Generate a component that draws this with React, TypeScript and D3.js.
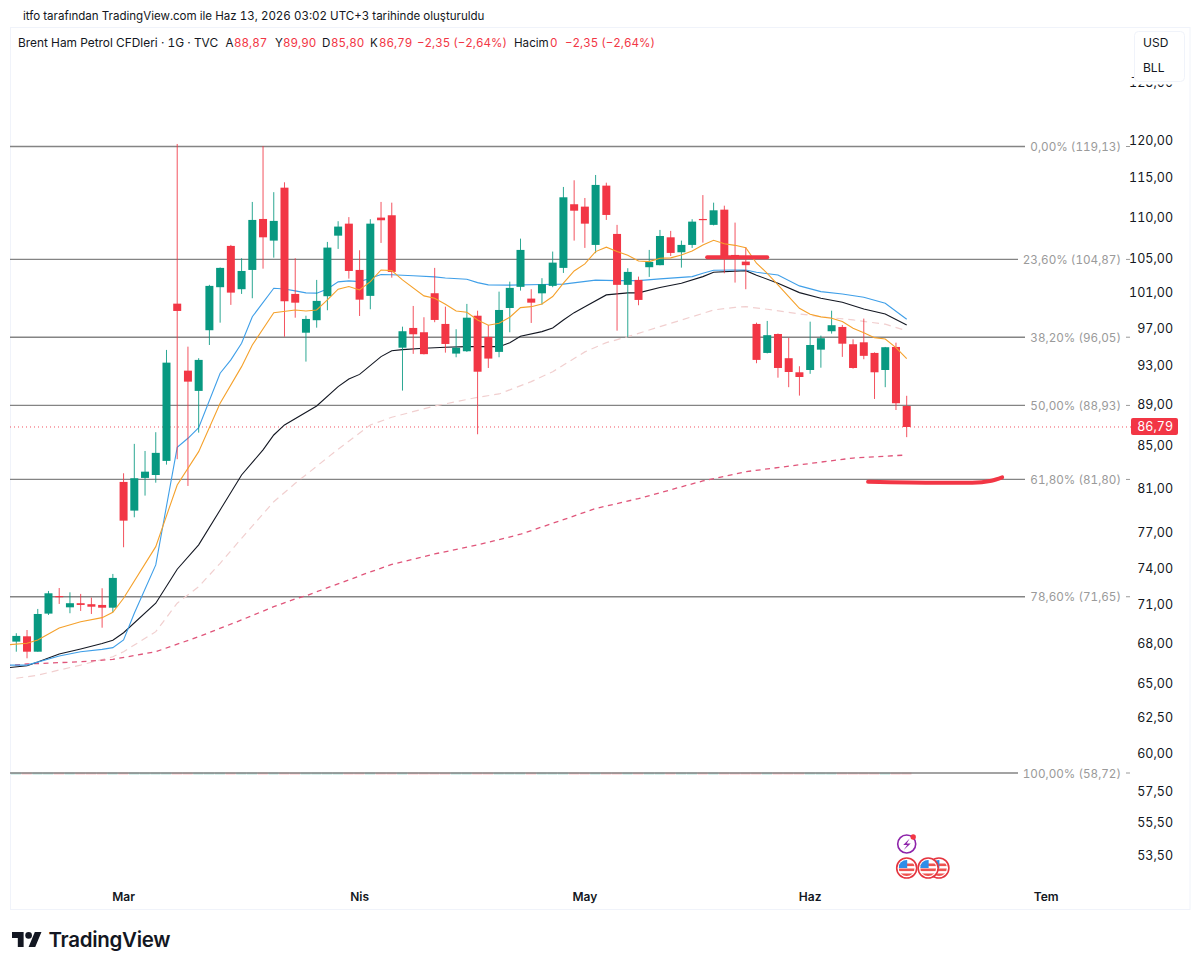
import React from "react";
import * as d3 from "d3";

const opens = [68.11,68.52,67.34,70.30,71.71,70.80,71.13,71.05,70.99,70.77,81.57,78.97,81.94,82.21,83.53,99.76,92.49,90.40,96.81,101.63,106.48,101.40,103.63,109.77,107.12,113.72,100.86,96.54,97.91,100.60,107.72,109.19,103.63,100.64,109.94,110.23,94.92,97.06,96.59,100.94,97.50,94.29,94.54,98.41,96.08,94.47,99.27,101.67,100.33,100.93,101.78,103.87,111.61,111.31,106.60,113.98,107.93,101.90,102.47,103.95,104.19,107.52,105.72,106.60,109.77,109.04,110.93,105.40,104.61,97.50,94.36,96.40,93.80,92.32,92.56,94.71,96.70,97.17,95.29,95.50,94.36,92.56,95.00,88.87];
const highs = [68.76,69.01,70.67,72.12,72.36,72.01,71.88,71.58,72.34,73.52,82.37,85.15,84.47,86.28,94.68,119.47,95.03,93.80,101.90,103.92,106.60,105.01,111.90,119.19,113.14,114.41,105.01,98.41,102.47,106.96,109.49,110.00,105.96,109.74,111.90,111.81,97.20,99.50,98.24,103.87,99.42,96.92,99.73,98.97,97.39,101.12,102.27,107.36,101.40,102.67,105.80,113.81,114.67,112.40,115.36,114.36,109.04,103.83,102.85,106.00,108.42,108.30,107.12,109.74,112.77,111.81,111.43,109.32,106.33,97.64,97.83,96.45,95.97,92.95,97.75,96.22,98.97,97.39,95.82,98.09,94.42,95.00,95.46,89.90];
const lows = [67.34,66.84,67.34,70.19,71.07,70.33,70.51,70.27,69.19,70.41,75.77,78.38,80.32,81.50,83.18,83.69,81.20,86.24,95.21,97.64,99.62,100.86,100.37,103.78,105.08,96.10,98.19,93.44,97.09,99.02,106.12,102.62,98.38,99.13,106.84,102.73,90.43,94.26,94.20,97.69,94.39,93.90,94.47,86.08,92.77,93.90,96.59,101.24,97.61,99.65,101.63,103.28,107.12,106.24,105.61,109.65,96.76,96.04,99.58,102.82,104.17,105.28,103.90,106.24,106.88,108.97,103.24,102.16,101.40,93.27,94.31,91.76,90.78,89.92,92.16,92.80,96.44,93.94,92.70,93.69,89.58,90.78,88.47,85.80];
const closes = [68.55,67.34,70.27,71.93,71.66,71.13,70.99,70.85,70.77,73.19,78.08,81.91,82.52,84.29,93.33,98.94,91.35,93.62,101.78,103.87,101.01,103.51,109.65,107.52,109.53,100.03,99.87,98.05,100.07,106.28,108.83,103.51,100.21,109.19,109.61,103.40,96.70,96.37,94.23,97.94,95.32,94.92,98.19,92.38,93.76,99.05,101.55,106.00,99.87,101.97,104.49,112.49,110.80,109.19,114.07,110.27,101.90,103.40,100.18,104.57,107.68,105.64,106.60,109.44,109.68,110.85,105.16,104.93,104.19,93.62,96.27,92.77,92.35,91.83,95.21,95.94,97.36,95.35,92.77,94.05,92.32,94.97,89.15,86.79];

const orangeIdx = [-1,1,2,4,6,8,9,10,13,15,17,19,21,22,24,26,27,28,29,30,31,32,33,34,35,36,38,39,40,41,42,43,44,45,46,47,48,49,50,51,52,53,54,55,56,57,58,59,60,61,62,63,64,65,66,67,68,69,70,71,72,73,74,75,76,77,78,79,80,81,82,83];
const orangeVal = [67.85,67.98,68.24,69.17,69.66,69.98,70.41,71.53,75.82,81.29,84.41,89.14,92.91,95.21,98.75,99.05,98.94,99.05,100.18,101.40,101.70,101.32,102.27,103.63,103.55,102.47,100.64,100.37,99.69,98.94,98.80,97.94,97.36,97.58,98.24,99.31,99.42,99.73,100.56,102.09,103.51,104.34,105.80,106.33,105.80,105.37,104.69,104.61,105.01,105.05,105.40,105.88,106.60,107.16,106.75,106.55,106.27,104.42,103.24,101.90,100.56,99.24,98.58,98.28,98.13,97.76,97.03,96.54,96.00,95.86,94.92,93.76];
const blueIdx = [-1,1,4,6,8,9,10,11,13,15,16,17,19,20,21,22,24,25,26,27,28,29,30,31,32,33,34,35,37,39,40,42,43,44,46,49,51,54,56,58,60,63,64,65,67,68,69,71,73,75,77,79,81,83];
const blueVal = [66.33,66.33,67.01,67.34,67.52,67.65,68.24,70.33,74.27,84.82,85.69,86.73,92.22,93.62,95.39,98.30,101.51,101.43,101.21,100.98,100.95,101.43,102.24,102.36,102.27,102.67,103.10,103.07,102.95,102.82,102.70,102.55,102.16,101.90,101.87,101.94,101.98,102.44,102.39,102.39,102.59,102.85,103.24,103.59,103.63,103.63,103.36,103.05,101.78,101.12,100.86,100.48,99.80,98.02];
const blackIdx = [-1,1,2,4,6,8,9,10,13,15,17,19,21,23,24,25,28,30,31,32,34,35,36,38,40,42,45,46,47,49,50,51,52,53,55,57,58,60,62,64,65,68,69,71,73,75,77,79,81,83];
const blackVal = [66.11,66.28,66.56,67.17,67.55,67.96,68.22,68.80,71.13,73.91,75.97,79.03,82.21,84.57,86.01,86.99,88.87,90.84,91.62,92.10,93.97,94.60,94.71,94.86,94.97,95.03,95.03,95.46,96.15,96.66,97.06,97.94,98.75,99.42,100.75,100.98,100.98,101.59,102.09,102.85,103.36,103.55,103.01,102.09,101.01,100.37,99.92,99.16,98.61,97.39];
const paleIdx = [0,2,4,6,9,10,13,15,17,19,21,24,26,30,33,35,39,43,45,48,50,53,55,57,60,63,65,67,68,70,73,75,78,81,83];
const paleVal = [65.35,65.58,65.96,66.33,66.96,67.34,68.88,71.13,72.47,74.41,76.54,79.77,81.44,84.64,86.99,87.75,88.87,89.75,90.09,91.35,92.38,94.47,95.46,96.11,97.20,98.30,99.05,99.35,99.42,99.13,98.61,98.30,97.94,97.47,96.76];
const redDashIdx = [-1,1,6,9,13,17,21,24,26,27,33,35,39,43,47,51,54,58,64,68,73,78,83];
const redDashVal = [66.28,66.41,66.58,66.76,67.34,68.49,69.80,70.85,71.47,71.73,73.69,74.31,75.20,75.97,76.89,78.17,79.16,80.05,81.66,82.52,83.16,83.80,84.09];

const markIdxA = [64.4,70.0];
const markValA = [105.12,105.12];
const markIdxB = [79.4,86,89.1,90.9,91.9];
const markValB = [81.59,81.50,81.50,81.68,81.99];

const fibPrices = [119.13,104.87,96.05,88.93,81.80,71.65,58.72];
const fibLabels = ["0,00% (119,13)","23,60% (104,87)","38,20% (96,05)","50,00% (88,93)","61,80% (81,80)","78,60% (71,65)","100,00% (58,72)"];
const priceTicks = [128,120,115,110,105,101,97,93,89,85,81,77,74,71,68,65,62.5,60,57.5,55.5,53.5];
const monthIdx = [10,32,53,74,96];
const monthNames = ["Mar","Nis","May","Haz","Tem"];
const flagEvents = [86,85,83];
const lastPrice = 86.79;

const GREEN = "#089981";
const RED = "#f23645";
const FONT = "Inter, 'Noto Sans', sans-serif";
const comma = (v: number) => v.toFixed(2).replace(".", ",");

const x = d3.scaleLinear().domain([0, 83]).range([16.3, 906.7]);
const y = d3.scaleLog().domain([58.72, 119.13]).range([773, 146.5]);

const makeLine = (idx: number[], val: number[], curve: any = d3.curveLinear) =>
  d3.line<number>().x((d) => x(idx[d])).y((d) => y(val[d])).curve(curve)(idx.map((_, k) => k)) || "";

const bodyW = 8;
const legendItems: [string, number, string][] = [
  ["Brent Ham Petrol CFDleri · 1G · TVC", 18, "#131722"],
  ["A", 225.5, "#131722"], ["88,87", 234, RED],
  ["Y", 275, "#131722"], ["89,90", 283, RED],
  ["D", 322, "#131722"], ["85,80", 331, RED],
  ["K", 370, "#131722"], ["86,79", 379, RED],
  ["−2,35 (−2,64%)", 417, RED],
  ["Hacim", 514, "#131722"], ["0", 550, RED],
  ["−2,35 (−2,64%)", 565, RED],
];

export default function App() {
  return (
    <svg width={1200} height={970} style={{ position: "absolute", left: 0, top: 0, display: "block", background: "#fff", fontFamily: FONT, fontVariantNumeric: "tabular-nums" }}>
      <defs>
        <clipPath id="pane"><rect x={10} y={28} width={1180} height={881} /></clipPath>
      </defs>
      <text x={23} y={20} fontSize={11.55} fill="#131722">itfo tarafından TradingView.com ile Haz 13, 2026 03:02 UTC+3 tarihinde oluşturuldu</text>
      <rect x={10.5} y={27.5} width={1179.5} height={882} fill="none" stroke="#f0f3fa" />

      {/* zero volume strip */}
      {opens.map((o, i) => (
        <rect key={i} x={x(i) - 5.4} y={y(58.72) - 0.5} width={10.2} height={2} fill={closes[i] >= o ? GREEN : RED} opacity={0.3} />
      ))}

      {/* fib lines */}
      {fibPrices.map((p, i) => (
        <g key={p}>
          <line x1={10} x2={fibLabels[i].length > 14 ? 1018 : 1025} y1={y(p)} y2={y(p)} stroke="#848484" strokeWidth={1.35} />
          <text x={1121} y={y(p) + 4.5} textAnchor="end" fontSize={11.7} fill="#9a9a9a">{fibLabels[i]}</text>
          <line x1={1126} x2={1130} y1={y(p)} y2={y(p)} stroke="#9a9a9a" strokeWidth={1} />
        </g>
      ))}

      <line x1={10} x2={1131} y1={y(lastPrice)} y2={y(lastPrice)} stroke={RED} strokeWidth={1} strokeDasharray="1 3" opacity={0.85} />

      <g clipPath="url(#pane)" fill="none">
        <path d={makeLine(paleIdx, paleVal)} stroke="#f1cfcf" strokeWidth={1.2} strokeDasharray="7 5" />
        <path d={makeLine(redDashIdx, redDashVal)} stroke="#e0557a" strokeWidth={1.3} strokeDasharray="5 4.5" />
        <path d={makeLine(blackIdx, blackVal)} stroke="#131722" strokeWidth={1.1} />
        <path d={makeLine(blueIdx, blueVal)} stroke="#3f9fe8" strokeWidth={1.1} />
      </g>

      {opens.map((o, i) => {
        const c = closes[i];
        const col = c >= o ? GREEN : RED;
        const top = y(Math.max(o, c));
        const bot = y(Math.min(o, c));
        return (
          <g key={i}>
            <line x1={x(i)} x2={x(i)} y1={y(highs[i])} y2={y(lows[i])} stroke={col} strokeWidth={1} opacity={0.85} />
            <rect x={x(i) - bodyW / 2} y={top} width={bodyW} height={Math.max(bot - top, 1.2)} fill={col} />
          </g>
        );
      })}

      <g clipPath="url(#pane)" fill="none">
        <path d={makeLine(orangeIdx, orangeVal)} stroke="#f5a12b" strokeWidth={1.1} />
      </g>

      {/* hand-drawn marks */}
      <path d={makeLine(markIdxA, markValA)} fill="none" stroke={RED} strokeWidth={4} strokeLinecap="round" />
      <path d={makeLine(markIdxB, markValB, d3.curveMonotoneX)} fill="none" stroke={RED} strokeWidth={4} strokeLinecap="round" />

      {/* price axis */}
      {priceTicks.map((t) => (
        <text key={t} x={1173} y={y(t) + 4.5} textAnchor="end" fontSize={12.5} fill="#131722">{comma(t)}</text>
      ))}
      <rect x={1131} y={y(lastPrice) - 9} width={47} height={17} rx={2} fill={RED} />
      <text x={1173} y={y(lastPrice) + 4.5} textAnchor="end" fontSize={12.5} fill="#fff">{comma(lastPrice)}</text>

      {/* currency box */}
      <rect x={1130} y={78} width={56} height={6.5} fill="#fff" />
      <rect x={1134.5} y={31.5} width={50} height={50} rx={4} fill="#fff" stroke="#f0f3fa" />
      <text x={1143} y={47} fontSize={12} fill="#131722">USD</text>
      <text x={1143} y={72} fontSize={12} fill="#131722">BLL</text>

      {/* legend */}
      {legendItems.map(([t, lx, col], i) => (
        <text key={i} x={lx} y={47} fontSize={t.length > 20 ? 11.9 : 11.6} fill={col}>{t}</text>
      ))}

      {/* time axis */}
      {monthNames.map((m, i) => (
        <text key={m} x={x(monthIdx[i])} y={901} textAnchor="middle" fontSize={12} fontWeight={600} fill="#131722">{m}</text>
      ))}

      {/* events */}
      <circle cx={x(83)} cy={844} r={9} fill="#fff" stroke="#8e24aa" strokeWidth={1.6} />
      <path d={`M${x(83) + 3} ${838.5}L${x(83) - 3.5} ${845}H${x(83) + 0.5}L${x(83) - 3} ${850}L${x(83) + 4} ${843.5}H${x(83)}Z`} fill="#8e24aa" />
      <circle cx={x(83) + 6.5} cy={837} r={2.7} fill={RED} />
      {flagEvents.map((e) => (
        <g key={e}>
          <clipPath id={`flag${e}`}><circle cx={x(e)} cy={868} r={8} /></clipPath>
          <circle cx={x(e)} cy={868} r={10} fill="#fff" stroke="#e5353f" strokeWidth={1.6} />
          <g clipPath={`url(#flag${e})`}>
            <rect x={x(e) - 8} y={860} width={16} height={16} fill="#fff" />
            <rect x={x(e) - 8} y={863.5} width={16} height={2.6} fill="#ef5350" />
            <rect x={x(e) - 8} y={868.5} width={16} height={2.6} fill="#ef5350" />
            <rect x={x(e) - 8} y={873.5} width={16} height={2.6} fill="#ef5350" />
            <rect x={x(e) - 8} y={860} width={8.5} height={8} fill="#2e8de8" />
          </g>
        </g>
      ))}

      {/* logo */}
      <g transform="translate(12 928.8) scale(0.83)" fill="#131722">
        <path d="M14 22H7V11H0V4h14v18zM28 22h-8l7.5-18h8L28 22z" />
        <circle cx={20} cy={8} r={4} />
      </g>
      <text x={48.5} y={947} fontSize={20.5} fontWeight={600} letterSpacing={-0.3} fill="#131722">TradingView</text>
    </svg>
  );
}
